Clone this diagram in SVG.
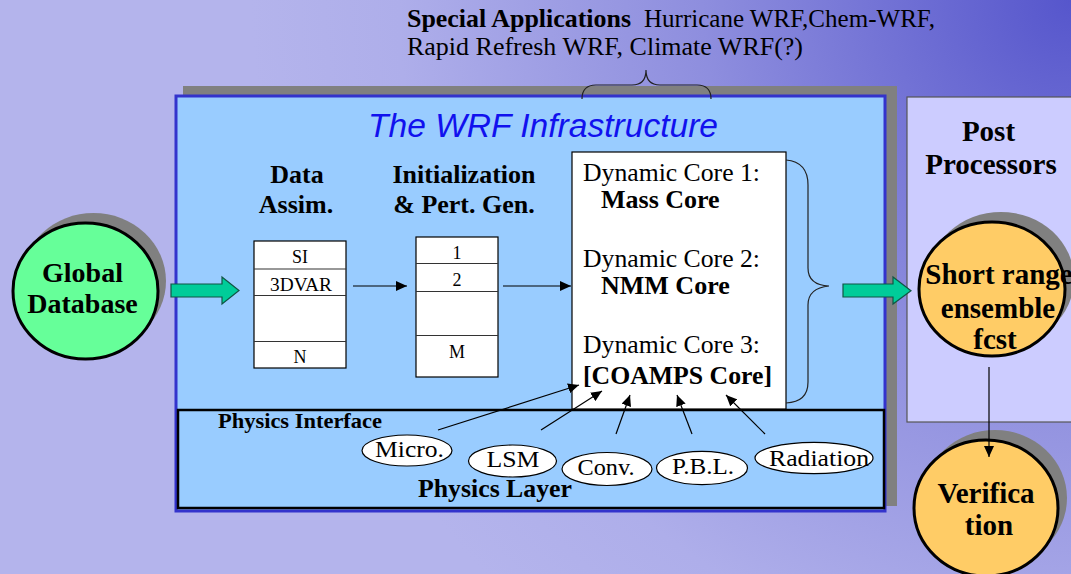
<svg xmlns="http://www.w3.org/2000/svg" width="1071" height="574" viewBox="0 0 1071 574">
<defs>
<radialGradient id="bgGrad" gradientUnits="userSpaceOnUse" cx="1071" cy="0" r="820">
<stop offset="0" stop-color="#5656cc"/>
<stop offset="0.45" stop-color="#8e8ede"/>
<stop offset="0.82" stop-color="#aeaeea"/>
<stop offset="1" stop-color="#b4b4ec"/>
</radialGradient>
<marker id="ah" markerUnits="userSpaceOnUse" markerWidth="12" markerHeight="10" refX="11" refY="5" orient="auto">
<path d="M0,0 L11,5 L0,10 z" fill="#000"/>
</marker>
<style>
.serif{font-family:"Liberation Serif","Times New Roman",serif;fill:#000}
.b{font-weight:bold}
.box{fill:#fff;stroke:#000;stroke-width:1.2}
.div{stroke:#333;stroke-width:1.2}
.ell{fill:#fff;stroke:#000;stroke-width:1.2}
.shadow{fill:#808080}
.blk{fill:#00cc99;stroke:#115544;stroke-width:1.2}
.con{stroke:#000;stroke-width:1.2;fill:none;marker-end:url(#ah)}
.brace{fill:none;stroke:#222;stroke-width:1.2}
</style>
</defs>
<rect id="bg" x="0" y="0" width="1071" height="574" fill="url(#bgGrad)"/>

<g id="special-apps">
<text class="serif b" x="407" y="27" font-size="26" textLength="224" lengthAdjust="spacingAndGlyphs">Special Applications</text>
<text class="serif" x="644" y="27" font-size="26" textLength="291" lengthAdjust="spacingAndGlyphs">Hurricane WRF,Chem-WRF,</text>
<text class="serif" x="407" y="55" font-size="26" textLength="396" lengthAdjust="spacingAndGlyphs">Rapid Refresh WRF, Climate WRF(?)</text>
</g>

<g id="wrf-infrastructure">
<rect class="shadow" x="183" y="86" width="714" height="420"/>
<rect x="176" y="96" width="709" height="415" fill="#99ccff" stroke="#3333cc" stroke-width="3"/>
<text x="368" y="137" font-family="'Liberation Sans',Arial,sans-serif" font-style="italic" font-size="34" fill="#1111ee" textLength="350" lengthAdjust="spacingAndGlyphs">The WRF Infrastructure</text>
</g>

<g id="physics-layer">
<rect x="178" y="410" width="706" height="98" fill="#99ccff" stroke="#000" stroke-width="2.5"/>
<text class="serif b" x="218" y="428" font-size="22" textLength="164" lengthAdjust="spacingAndGlyphs">Physics Interface</text>
<text class="serif b" x="418" y="497" font-size="26" textLength="154" lengthAdjust="spacingAndGlyphs">Physics Layer</text>
</g>

<g id="data-assim">
<text class="serif b" x="297" y="183" font-size="26" text-anchor="middle">Data</text>
<text class="serif b" x="296" y="213" font-size="26" text-anchor="middle">Assim.</text>
<rect class="box" x="254" y="241" width="92" height="127"/>
<line class="div" x1="254" y1="269" x2="346" y2="269"/>
<line class="div" x1="254" y1="295.5" x2="346" y2="295.5"/>
<line class="div" x1="254" y1="341.5" x2="346" y2="341.5"/>
<text class="serif" x="300" y="263" font-size="18" text-anchor="middle">SI</text>
<text class="serif" x="301" y="291" font-size="18" text-anchor="middle" textLength="62" lengthAdjust="spacingAndGlyphs">3DVAR</text>
<text class="serif" x="300" y="363" font-size="18" text-anchor="middle">N</text>
</g>

<g id="init-pert">
<text class="serif b" x="464" y="183" font-size="26" text-anchor="middle">Initialization</text>
<text class="serif b" x="464" y="213" font-size="26" text-anchor="middle">&amp; Pert. Gen.</text>
<rect class="box" x="416" y="237" width="82" height="140"/>
<line class="div" x1="416" y1="263.5" x2="498" y2="263.5"/>
<line class="div" x1="416" y1="291.5" x2="498" y2="291.5"/>
<line class="div" x1="416" y1="335.5" x2="498" y2="335.5"/>
<text class="serif" x="457" y="259" font-size="18" text-anchor="middle">1</text>
<text class="serif" x="457" y="286" font-size="18" text-anchor="middle">2</text>
<text class="serif" x="457" y="358" font-size="18" text-anchor="middle">M</text>
</g>

<g id="dynamic-cores">
<rect class="box" x="572" y="152" width="214" height="257"/>
<text class="serif" x="583" y="181" font-size="26" textLength="177" lengthAdjust="spacingAndGlyphs">Dynamic Core 1:</text>
<text class="serif b" x="601" y="208" font-size="26">Mass Core</text>
<text class="serif" x="583" y="267" font-size="26" textLength="177" lengthAdjust="spacingAndGlyphs">Dynamic Core 2:</text>
<text class="serif b" x="601" y="294" font-size="26">NMM Core</text>
<text class="serif" x="583" y="353" font-size="26" textLength="177" lengthAdjust="spacingAndGlyphs">Dynamic Core 3:</text>
<text class="serif b" x="583" y="384" font-size="26" textLength="189" lengthAdjust="spacingAndGlyphs">[COAMPS Core]</text>
</g>

<g id="physics-modules">
<g id="micro"><ellipse class="ell" cx="407" cy="450.5" rx="45" ry="15.5"/><text class="serif" x="409.5" y="457" font-size="23" text-anchor="middle" textLength="69" lengthAdjust="spacingAndGlyphs">Micro.</text></g>
<g id="lsm"><ellipse class="ell" cx="512.5" cy="461" rx="44" ry="16"/><text class="serif" x="513" y="467" font-size="23" text-anchor="middle" textLength="53" lengthAdjust="spacingAndGlyphs">LSM</text></g>
<g id="conv"><ellipse class="ell" cx="607" cy="469" rx="45" ry="16.5"/><text class="serif" x="606" y="475" font-size="23" text-anchor="middle" textLength="57" lengthAdjust="spacingAndGlyphs">Conv.</text></g>
<g id="pbl"><ellipse class="ell" cx="702" cy="468" rx="45.5" ry="16.7"/><text class="serif" x="703" y="474" font-size="23" text-anchor="middle" textLength="62" lengthAdjust="spacingAndGlyphs">P.B.L.</text></g>
<g id="radiation"><ellipse class="ell" cx="814" cy="458" rx="59" ry="15.7"/><text class="serif" x="819" y="466" font-size="23" text-anchor="middle" textLength="100" lengthAdjust="spacingAndGlyphs">Radiation</text></g>
</g>

<g id="global-db">
<ellipse class="shadow" cx="93.5" cy="281" rx="72.5" ry="68"/>
<ellipse cx="85.5" cy="291" rx="72.5" ry="68" fill="#66ff99" stroke="#000" stroke-width="3"/>
<text class="serif b" x="82.5" y="282" font-size="28" text-anchor="middle">Global</text>
<text class="serif b" x="82.5" y="313" font-size="28" text-anchor="middle">Database</text>
</g>

<g id="post-processors">
<rect x="907" y="97" width="170" height="325" fill="#ccccff" stroke="#555" stroke-width="1.2"/>
<text class="serif b" x="988.5" y="141" font-size="29" text-anchor="middle">Post</text>
<text class="serif b" x="991" y="174" font-size="29" text-anchor="middle">Processors</text>
</g>

<g id="short-range">
<ellipse class="shadow" cx="1001" cy="279" rx="73" ry="67"/>
<ellipse cx="992" cy="289" rx="73" ry="67" fill="#ffcc66" stroke="#000" stroke-width="3"/>
<text class="serif b" x="999" y="284" font-size="29" text-anchor="middle">Short range</text>
<text class="serif b" x="998" y="318" font-size="29" text-anchor="middle">ensemble</text>
<text class="serif b" x="995" y="349" font-size="29" text-anchor="middle">fcst</text>
</g>

<g id="verification">
<ellipse class="shadow" cx="995" cy="498" rx="72" ry="68"/>
<ellipse cx="986" cy="508" rx="72" ry="68" fill="#ffcc66" stroke="#000" stroke-width="3"/>
<text class="serif b" x="986" y="503" font-size="29" text-anchor="middle">Verifica</text>
<text class="serif b" x="989" y="535" font-size="29" text-anchor="middle">tion</text>
</g>

<g id="connectors">
<polygon class="blk" points="171,284 222,284 222,277 239,290.5 222,304 222,297 171,297"/>
<polygon class="blk" points="843,284 893,284 893,277 911,290.7 893,304 893,297 843,297"/>
<line class="con" x1="353" y1="286" x2="407" y2="286"/>
<line class="con" x1="503" y1="286" x2="571" y2="286"/>
<line class="con" x1="438" y1="430" x2="579" y2="385"/>
<line class="con" x1="541" y1="430" x2="602" y2="391"/>
<line class="con" x1="616" y1="434" x2="630" y2="395"/>
<line class="con" x1="692" y1="434" x2="677" y2="395"/>
<line class="con" x1="765" y1="434" x2="726" y2="395"/>
<line class="con" x1="989" y1="367" x2="989" y2="457" stroke="#333"/>
<path class="brace" d="M582,99 Q582,85 596,85 L632,85 Q646,85 646,70 Q646,85 660,85 L697,85 Q711,85 711,99"/>
<path class="brace" d="M786,160 Q808,162 808,185 L808,268 Q808,285 829,286 Q808,288 808,305 L808,382 Q808,402 786,403"/>
</g>
</svg>
